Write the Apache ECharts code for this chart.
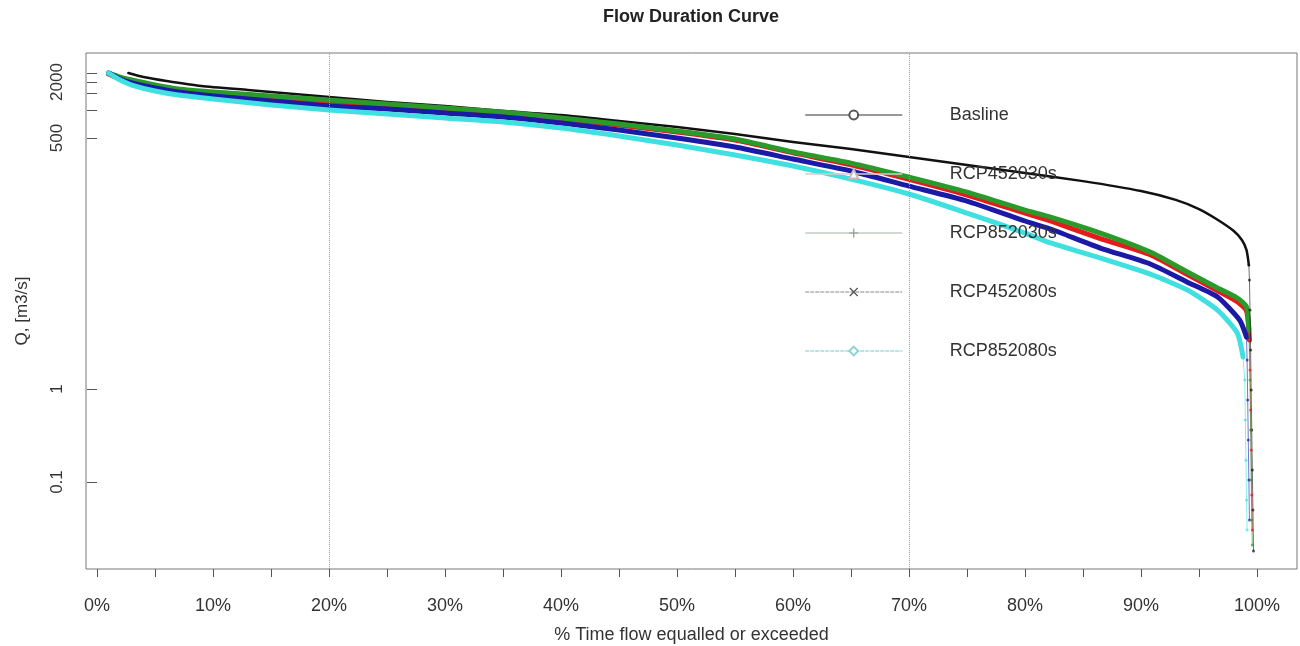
<!DOCTYPE html>
<html>
<head>
<meta charset="utf-8">
<script src="https://cdn.jsdelivr.net/npm/echarts@6/dist/echarts.min.js"></script>
<style>html,body{margin:0;padding:0;background:#fff}#c{width:1300px;height:646px}</style>
</head>
<body>
<div id="c"></div>
<script>
// ---------- data (x: % time flow equalled or exceeded, y: Q [m3/s]) ----------
const seriesNames = ['Basline', 'RCP452030s', 'RCP852030s', 'RCP452080s', 'RCP852080s'];

const baseX = [2.7, 4, 6, 9, 13, 20, 25, 30, 35, 40, 45, 50, 55, 60, 65, 70, 75, 80, 85, 90, 93, 95, 96.5, 98, 98.7, 99.1, 99.3];
const baseY = [2499, 2264, 2050, 1813, 1641, 1380, 1219, 1104, 976, 884, 762, 657, 552, 453, 381, 312, 256, 210, 172, 134.6, 108, 86.1, 67.3, 50.0, 40.0, 31.2, 21.5];
const baseTailX = [99.35, 99.4, 99.45, 99.5, 99.55, 99.6, 99.65, 99.7];
const baseTailY = [14.9, 7.07, 2.63, 0.975, 0.362, 0.135, 0.050, 0.0181];

const r45_30X = [1, 2, 3, 5, 7, 10, 15, 20, 25, 30, 35, 40, 45, 50, 55, 60, 65, 70, 75, 80, 82.2, 86.5, 90.8, 94, 96.6, 98.3, 99.1, 99.35];
const r45_30Y = [2439, 2154, 2001, 1768, 1601, 1486, 1346, 1219, 1104, 1000, 906, 800, 690, 580, 476, 347, 258, 180, 122, 78, 64.1, 41.5, 27.8, 17.0, 11.4, 8.7, 6.9, 3.36];
const r45_30TailX = [99.4, 99.45, 99.5, 99.55, 99.6];
const r45_30TailY = [1.60, 0.594, 0.221, 0.0725, 0.0305];

const r85_30X = [1, 2, 3, 5, 7, 10, 15, 20, 25, 30, 35, 40, 45, 50, 55, 60, 65, 70, 75, 80, 82.2, 86.5, 90.8, 94, 96.6, 98.3, 99.1, 99.3];
const r85_30Y = [2499, 2264, 2102, 1857, 1682, 1561, 1414, 1281, 1160, 1051, 951, 820, 707, 595, 488, 354, 269, 190, 131, 84.1, 70.7, 47.6, 29.7, 18.1, 12.2, 9.52, 7.62, 4.31];
const r85_30TailX = [99.4, 99.45, 99.5, 99.55, 99.6];
const r85_30TailY = [1.25, 0.362, 0.105, 0.039, 0.021];

const r45_80X = [1, 2, 3, 5, 7, 10, 15, 20, 25, 30, 35, 40, 45, 50, 55, 60, 65, 70, 75, 80, 82.2, 86.5, 90.8, 94, 96.6, 98.5, 99.1];
const r45_80Y = [2499, 2154, 1951, 1724, 1561, 1414, 1250, 1104, 1025, 928, 841, 725, 610, 500, 400, 297, 221, 152, 105, 64.1, 52.6, 32.8, 22.1, 14.1, 9.76, 5.52, 3.62];
const r45_80TailX = [99.15, 99.2, 99.25, 99.3, 99.35];
const r45_80TailY = [2.05, 0.762, 0.283, 0.105, 0.039];

const r85_80X = [1, 2, 3, 5, 7, 10, 15, 20, 25, 30, 35, 40, 45, 50, 55, 60, 65, 70, 75, 80, 82.2, 86.5, 90.8, 94, 96.6, 98.3, 98.8];
const r85_80Y = [2499, 2102, 1857, 1601, 1450, 1313, 1132, 1000, 906, 820, 743, 640, 525, 421, 328, 250, 181, 125, 78.0, 47.6, 37.2, 25.6, 17.2, 11.6, 7.07, 4.00, 2.21];
const r85_80TailX = [98.95, 99.0, 99.05, 99.1, 99.15];
const r85_80TailY = [1.25, 0.464, 0.172, 0.064, 0.0305];

const xLabelValues = [0, 10, 20, 30, 40, 50, 60, 70, 80, 90, 100];
const xTickValues = [0, 5, 10, 15, 20, 25, 30, 35, 40, 45, 50, 55, 60, 65, 70, 75, 80, 85, 90, 95, 100];
const yLabelValues = [0.1, 1, 500, 2000];
const yTickValues = [0.1, 1, 500, 1000, 1500, 2000, 2500];
const refLinesX = [20, 70];

// ---------- styles ----------
const FONT = '"Liberation Sans", Arial, sans-serif';
const colors = ['#111111', '#e41a1c', '#2a9a2a', '#1a1aa6', '#40e0e0'];
const widths = [2.5, 5, 5, 5, 5];
const symbols = [
  'emptyCircle',
  'emptyTriangle',
  'path://M0,4.3h10v1.4h-10z M4.3,0h1.4v10h-1.4z',
  'path://M0,1L1,0L5,4L9,0L10,1L6,5L10,9L9,10L5,6L1,10L0,9L4,5z',
  'emptyDiamond'
];
const legendStyles = [
  { line: { color: '#777', width: 1.5, type: 'solid' }, item: { color: '#555' } },
  { line: { color: '#d8cccc', width: 1.5, type: 'solid' }, item: { color: '#c8b8b8' } },
  { line: { color: '#c4ccc4', width: 1.5, type: 'solid' }, item: { color: '#8a9a8a' } },
  { line: { color: '#888', width: 1.2, type: [3, 2] }, item: { color: '#555' } },
  { line: { color: '#a0dede', width: 1.5, type: [3, 2] }, item: { color: '#8fd4d4' } }
];

const mains = [[baseX, baseY], [r45_30X, r45_30Y], [r85_30X, r85_30Y], [r45_80X, r45_80Y], [r85_80X, r85_80Y]];
const tails = [[baseTailX, baseTailY], [r45_30TailX, r45_30TailY], [r85_30TailX, r85_30TailY], [r45_80TailX, r45_80TailY], [r85_80TailX, r85_80TailY]];
const pairs = (xs, ys) => xs.map((x, i) => [x, ys[i]]);

const series = [];
seriesNames.forEach((name, i) => {
  const main = pairs(mains[i][0], mains[i][1]);
  const s = {
    name, type: 'line', data: main,
    symbol: symbols[i], showSymbol: false,
    smooth: 0.2,
    lineStyle: { color: colors[i], width: widths[i], join: 'round', cap: 'round' },
    itemStyle: { color: colors[i] },
    emphasis: { disabled: true }, silent: true
  };
  if (i === 0) {
    s.markLine = {
      silent: true, symbol: ['none', 'none'], label: { show: false },
      lineStyle: { type: 'dotted', color: '#9a9a9a', width: 1 },
      data: refLinesX.map(v => ({ xAxis: v }))
    };
  }
  series.push(s);
});
seriesNames.forEach((name, i) => {
  const main = mains[i];
  const last = [main[0][main[0].length - 1], main[1][main[1].length - 1]];
  series.push({
    name, type: 'line', data: [last].concat(pairs(tails[i][0], tails[i][1])),
    symbol: 'circle', symbolSize: 3, showSymbol: true,
    lineStyle: { color: colors[i], width: 1, opacity: 0.6 },
    itemStyle: { color: colors[i], opacity: 0.7 },
    emphasis: { disabled: true }, silent: true
  });
});

const chart = echarts.init(document.getElementById('c'), null, { renderer: 'canvas' });
chart.setOption({
  animation: false,
  backgroundColor: '#ffffff',
  graphic: [{
    type: 'text', x: 691, y: 17,
    style: { text: 'Flow Duration Curve', font: 'bold 18px ' + FONT, fill: '#222',
      align: 'center', verticalAlign: 'middle', textAlign: 'center', textVerticalAlign: 'middle' }
  }],
  grid: { left: 86, right: 3, top: 53, bottom: 77, containLabel: false, outerBoundsMode: 'none',
    show: true, borderColor: '#777', borderWidth: 1, backgroundColor: 'transparent' },
  legend: {
    orient: 'vertical', left: 800, top: 100,
    itemWidth: 96, itemHeight: 11, itemGap: 39,
    selectedMode: false,
    textStyle: { fontFamily: FONT, fontSize: 18, color: '#333', lineHeight: 20, padding: [0, 0, 0, 43] },
    data: seriesNames.map((n, i) => ({ name: n, lineStyle: legendStyles[i].line, itemStyle: legendStyles[i].item }))
  },
  xAxis: {
    type: 'value', min: -0.95, max: 103.45,
    name: '% Time flow equalled or exceeded', nameLocation: 'middle', nameGap: 57,
    nameTextStyle: { fontFamily: FONT, fontSize: 18, color: '#333' },
    axisLine: { show: false },
    splitLine: { show: false },
    axisTick: { show: true, length: 8, customValues: xTickValues, lineStyle: { color: '#555' } },
    axisLabel: { customValues: xLabelValues, formatter: '{value}%', margin: 28, fontFamily: FONT, fontSize: 18, color: '#333' }
  },
  yAxis: {
    type: 'log', logBase: 10, min: 0.01161, max: 4105,
    name: 'Q, [m3/s]', nameLocation: 'middle', nameGap: 55, nameRotate: 90,
    nameTextStyle: { fontFamily: FONT, fontSize: 17, color: '#333' },
    axisLine: { show: false },
    splitLine: { show: false },
    minorTick: { show: false },
    axisTick: { show: true, length: 10, customValues: yTickValues, lineStyle: { color: '#555' } },
    axisLabel: { customValues: yLabelValues, rotate: 90, margin: 20, fontFamily: FONT, fontSize: 17, color: '#333',
      formatter: v => String(v) }
  },
  series
});
</script>
</body>
</html>
